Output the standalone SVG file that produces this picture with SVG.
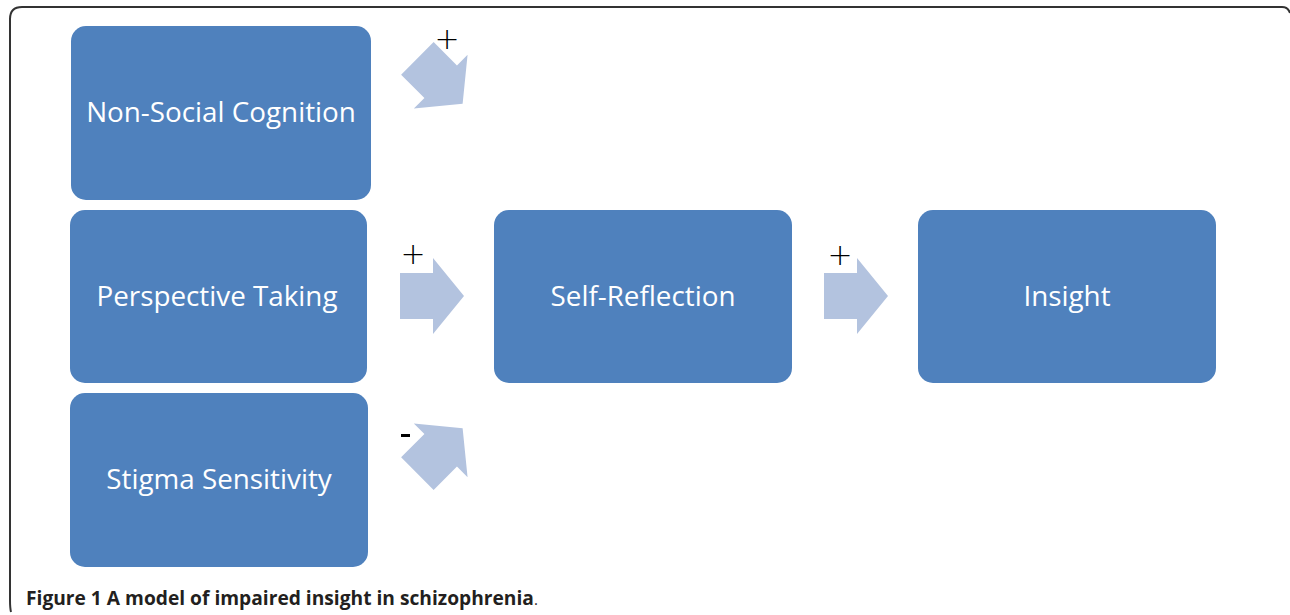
<svg xmlns="http://www.w3.org/2000/svg" width="1290" height="615" viewBox="0 0 1290 615">
<defs>
<style>
.node{fill:#4F81BD;}
.lbl{fill:#fff;font-family:"Open Sans","Liberation Sans",sans-serif;font-size:27.8px;text-anchor:middle;}
.arr{fill:#B3C3DF;}
.sign{fill:#000;font-family:"DejaVu Sans","Liberation Sans",sans-serif;font-size:30px;font-weight:200;text-anchor:middle;}
.cap{font-family:"Open Sans","Liberation Sans",sans-serif;font-size:19.2px;fill:#231F20;}
</style>
<path id="arrowShape" d="M-32,-23 L1,-23 L1,-38 L32,0 L1,38 L1,23 L-32,23 Z"/>
</defs>
<rect width="1290" height="615" fill="#fff"/>
<path d="M11,612 Q10,608 10,600 L10,19 Q10,7 22,7 L1282,7 Q1288,7 1290,13" fill="none" stroke="#333" stroke-width="2"/>
<g id="nonsocial"><rect class="node" x="71" y="26" width="300" height="174" rx="15"/><text class="lbl" x="221" y="122">Non-Social Cognition</text></g>
<g id="perspective"><rect class="node" x="70" y="210" width="297" height="173" rx="15"/><text class="lbl" x="217" y="306">Perspective Taking</text></g>
<g id="stigma"><rect class="node" x="70" y="393" width="298" height="174" rx="15"/><text class="lbl" x="219" y="489">Stigma Sensitivity</text></g>
<g id="selfreflection"><rect class="node" x="494" y="210" width="298" height="173" rx="15"/><text class="lbl" x="643" y="306">Self-Reflection</text></g>
<g id="insight"><rect class="node" x="918" y="210" width="298" height="173" rx="15"/><text class="lbl" x="1067" y="306">Insight</text></g>
<g id="connectors">
<use href="#arrowShape" class="arr" transform="translate(440,81) rotate(45)"/>
<use href="#arrowShape" class="arr" transform="translate(432,296)"/>
<use href="#arrowShape" class="arr" transform="translate(440,451) rotate(-45)"/>
<use href="#arrowShape" class="arr" transform="translate(856,296)"/>
<text class="sign" x="447" y="49">+</text>
<text class="sign" x="413" y="264">+</text>
<text class="sign" x="840" y="265">+</text>
<rect x="401" y="434" width="9" height="3" fill="#000"/>
</g>
<text class="cap" x="26" y="605"><tspan font-weight="bold">Figure 1 A model of impaired insight in schizophrenia</tspan><tspan font-size="15">.</tspan></text>
</svg>
